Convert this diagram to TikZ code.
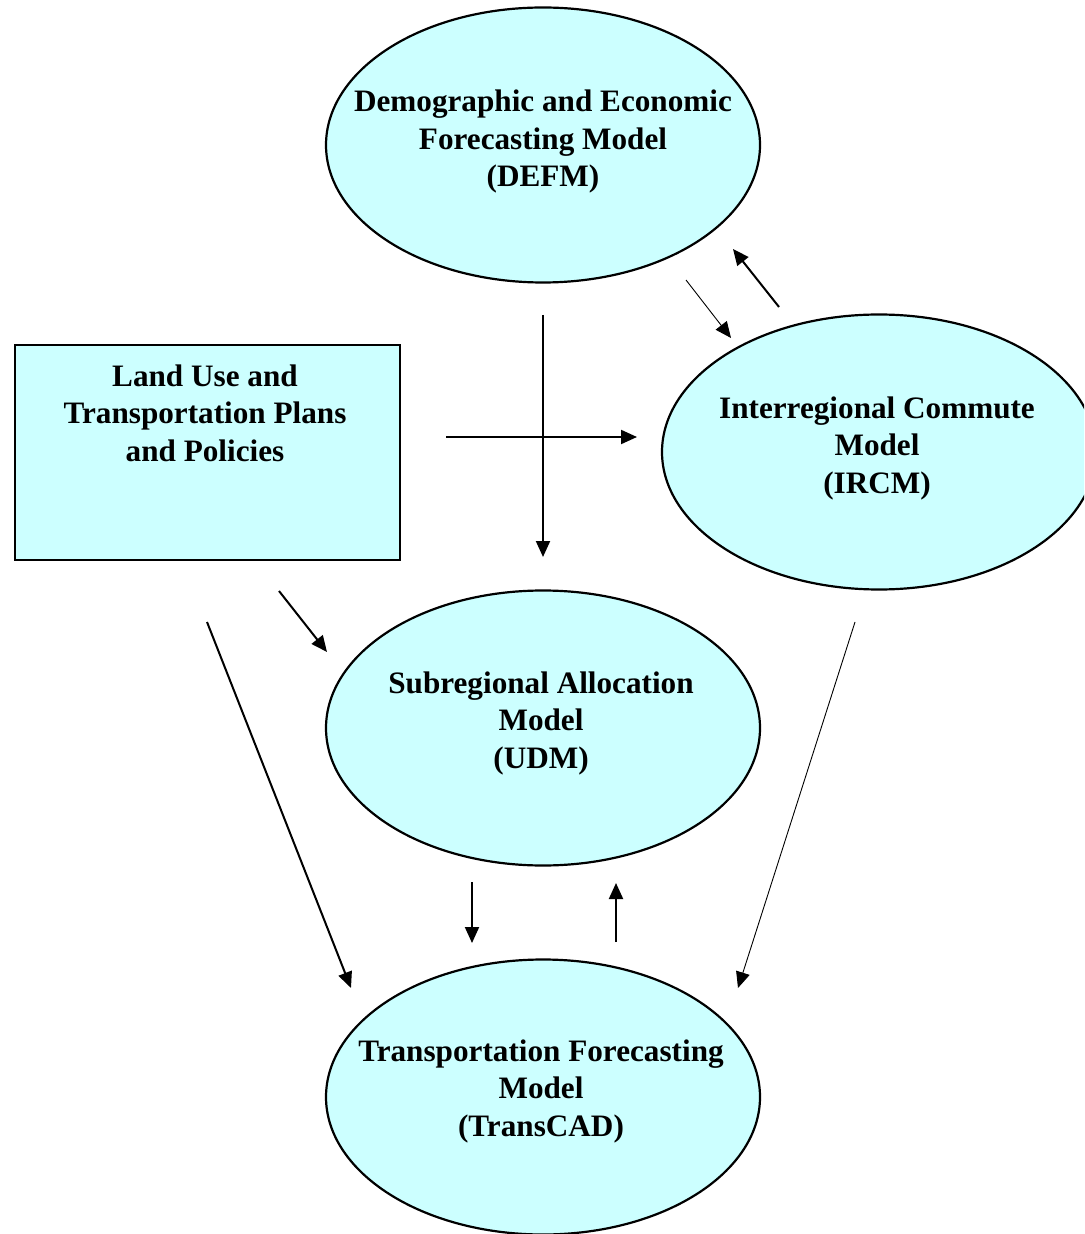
\documentclass[tikz,border=0pt]{standalone}
\usepackage{fontspec}
\setmainfont{Liberation Serif}
\usetikzlibrary{shapes.geometric,arrows.meta}
\definecolor{modelfill}{HTML}{CCFFFF}
\tikzset{
  model/.style={ellipse, draw=black, line width=1.1pt, fill=modelfill, minimum width=217pt, minimum height=137.5pt, inner sep=0pt},
  plan/.style={rectangle, draw=black, line width=1.1pt, fill=modelfill, minimum width=192.5pt, minimum height=107.5pt, inner sep=0pt},
  lbl/.style={align=center, font=\fontsize{15.6}{18.75}\selectfont\bfseries, inner sep=0pt},
  flow/.style={line width=1pt, -{Triangle[length=8pt,width=7pt]}},
  thinflow/.style={line width=0.45pt, -{Triangle[length=8pt,width=7pt]}}
}
\begin{document}
\begin{tikzpicture}[x=0.5pt,y=-0.5pt]
\useasboundingbox (0,0) rectangle (1084,1234);
\begin{scope}
\clip (0,0) rectangle (1084,1234);
\node[model] (defm) at (543,145) {};
\node[model] (ircm) at (879,452) {};
\node[model] (udm) at (543,728) {};
\node[model] (tcad) at (543,1097) {};
\node[plan] (plans) at (207.5,452.5) {};
\end{scope}
\node[lbl] (defmt) at (543,142) {Demographic and Economic\\Forecasting Model\\(DEFM)};
\node[lbl] (ircmt) at (877,448) {Interregional Commute\\Model\\(IRCM)};
\node[lbl] (udmt) at (541,723) {Subregional Allocation\\Model\\(UDM)};
\node[lbl] (tcadt) at (541,1091) {Transportation Forecasting\\Model\\(TransCAD)};
\node[lbl] (planst) at (205,413) {Land Use and\\Transportation Plans\\and Policies};
% free arrow ends
\coordinate (a1s) at (543,315); \coordinate (a1e) at (543,557);
\coordinate (a2s) at (446,437); \coordinate (a2e) at (637,437);
\coordinate (a3s) at (686,280); \coordinate (a3e) at (731,338);
\coordinate (a4s) at (779,307); \coordinate (a4e) at (733,249);
\coordinate (a5s) at (279,591); \coordinate (a5e) at (327,652);
\coordinate (a6s) at (207,622); \coordinate (a6e) at (351,988);
\coordinate (a7s) at (855,622); \coordinate (a7e) at (738,988);
\coordinate (a8s) at (472,882); \coordinate (a8e) at (472,943);
\coordinate (a9s) at (616,942); \coordinate (a9e) at (616,883);
\draw[flow] (a1s) -- (a1e);
\draw[flow] (a2s) -- (a2e);
\draw[thinflow] (a3s) -- (a3e);
\draw[flow] (a4s) -- (a4e);
\draw[flow] (a5s) -- (a5e);
\draw[flow] (a6s) -- (a6e);
\draw[thinflow] (a7s) -- (a7e);
\draw[flow] (a8s) -- (a8e);
\draw[flow] (a9s) -- (a9e);
\end{tikzpicture}
\end{document}
